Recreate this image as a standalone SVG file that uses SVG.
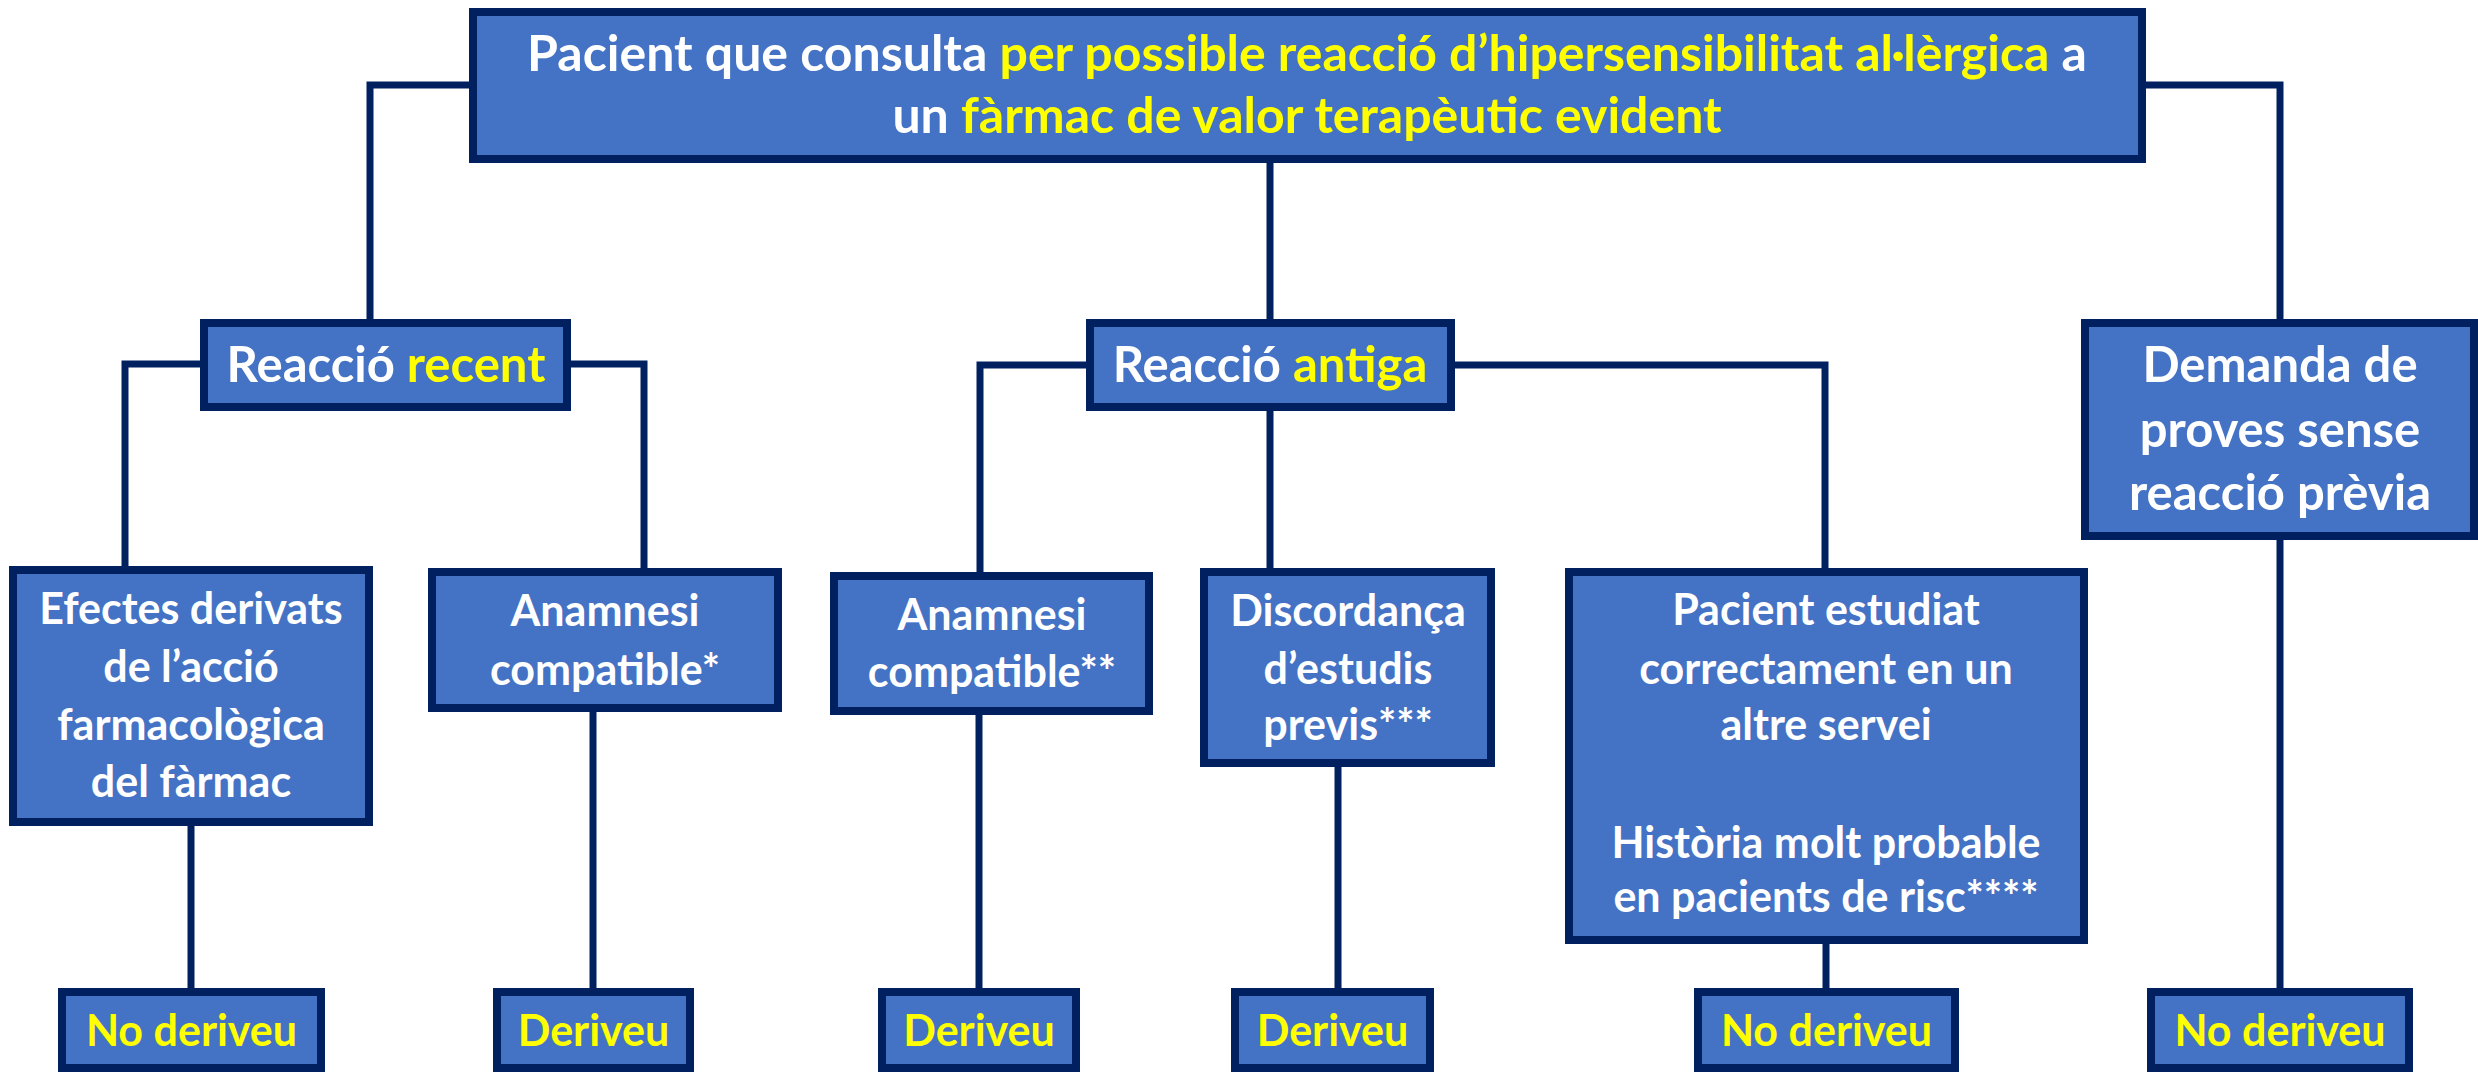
<svg xmlns="http://www.w3.org/2000/svg" width="2478" height="1072" viewBox="0 0 2478 1072">
<style>
.box{fill:#4472C4;stroke:#002060;stroke-width:8}
.conn{fill:none;stroke:#002060;stroke-width:7}
text{font-family:Lato,"Open Sans",sans-serif;font-weight:700;fill:#FFFFFF;text-anchor:middle}
.y{fill:#FFFF00}
.t{font-size:50px}
.h{font-size:49px}
.n{font-size:43px}
</style>
<rect width="2478" height="1072" fill="#FFFFFF"/>
<g id="connectors">
<polyline class="conn" points="469,85 370,85 370,319"/>
<polyline class="conn" points="2146,85 2280,85 2280,319"/>
<line class="conn" x1="1270" y1="163" x2="1270" y2="319"/>
<polyline class="conn" points="200,364 125,364 125,566"/>
<polyline class="conn" points="571,364 644,364 644,568"/>
<polyline class="conn" points="1086,365 980,365 980,572"/>
<line class="conn" x1="1270" y1="411" x2="1270" y2="568"/>
<polyline class="conn" points="1455,365 1825,365 1825,568"/>
<line class="conn" x1="2280" y1="540" x2="2280" y2="988"/>
<line class="conn" x1="191" y1="826" x2="191" y2="988"/>
<line class="conn" x1="593" y1="712" x2="593" y2="988"/>
<line class="conn" x1="979" y1="715" x2="979" y2="988"/>
<line class="conn" x1="1338" y1="767" x2="1338" y2="988"/>
<line class="conn" x1="1826" y1="944" x2="1826" y2="988"/>
</g>
<g id="top">
<rect class="box" x="473" y="12" width="1669" height="147"/>
<text class="t" x="1307" y="71">Pacient que consulta <tspan class="y">per possible reacció d’hipersensibilitat al·lèrgica</tspan> a</text>
<text class="t" x="1307" y="133">un <tspan class="y">fàrmac de valor terapèutic evident</tspan></text>
</g>
<g id="recent">
<rect class="box" x="204" y="323" width="363" height="84"/>
<text class="h" x="386" y="382">Reacció <tspan class="y">recent</tspan></text>
</g>
<g id="antiga">
<rect class="box" x="1090" y="323" width="361" height="84"/>
<text class="h" x="1270" y="382">Reacció <tspan class="y">antiga</tspan></text>
</g>
<g id="demanda">
<rect class="box" x="2085" y="323" width="389" height="213"/>
<text class="h" x="2280" y="382">Demanda de</text>
<text class="h" x="2280" y="447">proves sense</text>
<text class="h" x="2280" y="510">reacció prèvia</text>
</g>
<g id="efectes">
<rect class="box" x="13" y="570" width="356" height="252"/>
<text class="n" x="191" y="624">Efectes derivats</text>
<text class="n" x="191" y="682">de l’acció</text>
<text class="n" x="191" y="740">farmacològica</text>
<text class="n" x="191" y="797">del fàrmac</text>
</g>
<g id="anamnesi1">
<rect class="box" x="432" y="572" width="346" height="136"/>
<text class="n" x="605" y="626">Anamnesi</text>
<text class="n" x="605" y="685">compatible*</text>
</g>
<g id="anamnesi2">
<rect class="box" x="834" y="576" width="315" height="135"/>
<text class="n" x="992" y="630">Anamnesi</text>
<text class="n" x="992" y="687">compatible**</text>
</g>
<g id="discordanca">
<rect class="box" x="1204" y="572" width="287" height="191"/>
<text class="n" x="1348" y="626">Discordança</text>
<text class="n" x="1348" y="684">d’estudis</text>
<text class="n" x="1348" y="740">previs***</text>
</g>
<g id="pacient">
<rect class="box" x="1569" y="572" width="515" height="368"/>
<text class="n" x="1826" y="625">Pacient estudiat</text>
<text class="n" x="1826" y="684">correctament en un</text>
<text class="n" x="1826" y="740">altre servei</text>
<text class="n" x="1826" y="858">Història molt probable</text>
<text class="n" x="1826" y="912">en pacients de risc****</text>
</g>
<g id="out1">
<rect class="box" x="62" y="992" width="259" height="76"/>
<text class="n y" x="191.5" y="1046">No deriveu</text>
</g>
<g id="out2">
<rect class="box" x="497" y="992" width="193" height="76"/>
<text class="n y" x="593.5" y="1046">Deriveu</text>
</g>
<g id="out3">
<rect class="box" x="882" y="992" width="194" height="76"/>
<text class="n y" x="979" y="1046">Deriveu</text>
</g>
<g id="out4">
<rect class="box" x="1235" y="992" width="195" height="76"/>
<text class="n y" x="1332.5" y="1046">Deriveu</text>
</g>
<g id="out5">
<rect class="box" x="1698" y="992" width="257" height="76"/>
<text class="n y" x="1826.5" y="1046">No deriveu</text>
</g>
<g id="out6">
<rect class="box" x="2151" y="992" width="258" height="76"/>
<text class="n y" x="2280" y="1046">No deriveu</text>
</g>
</svg>
